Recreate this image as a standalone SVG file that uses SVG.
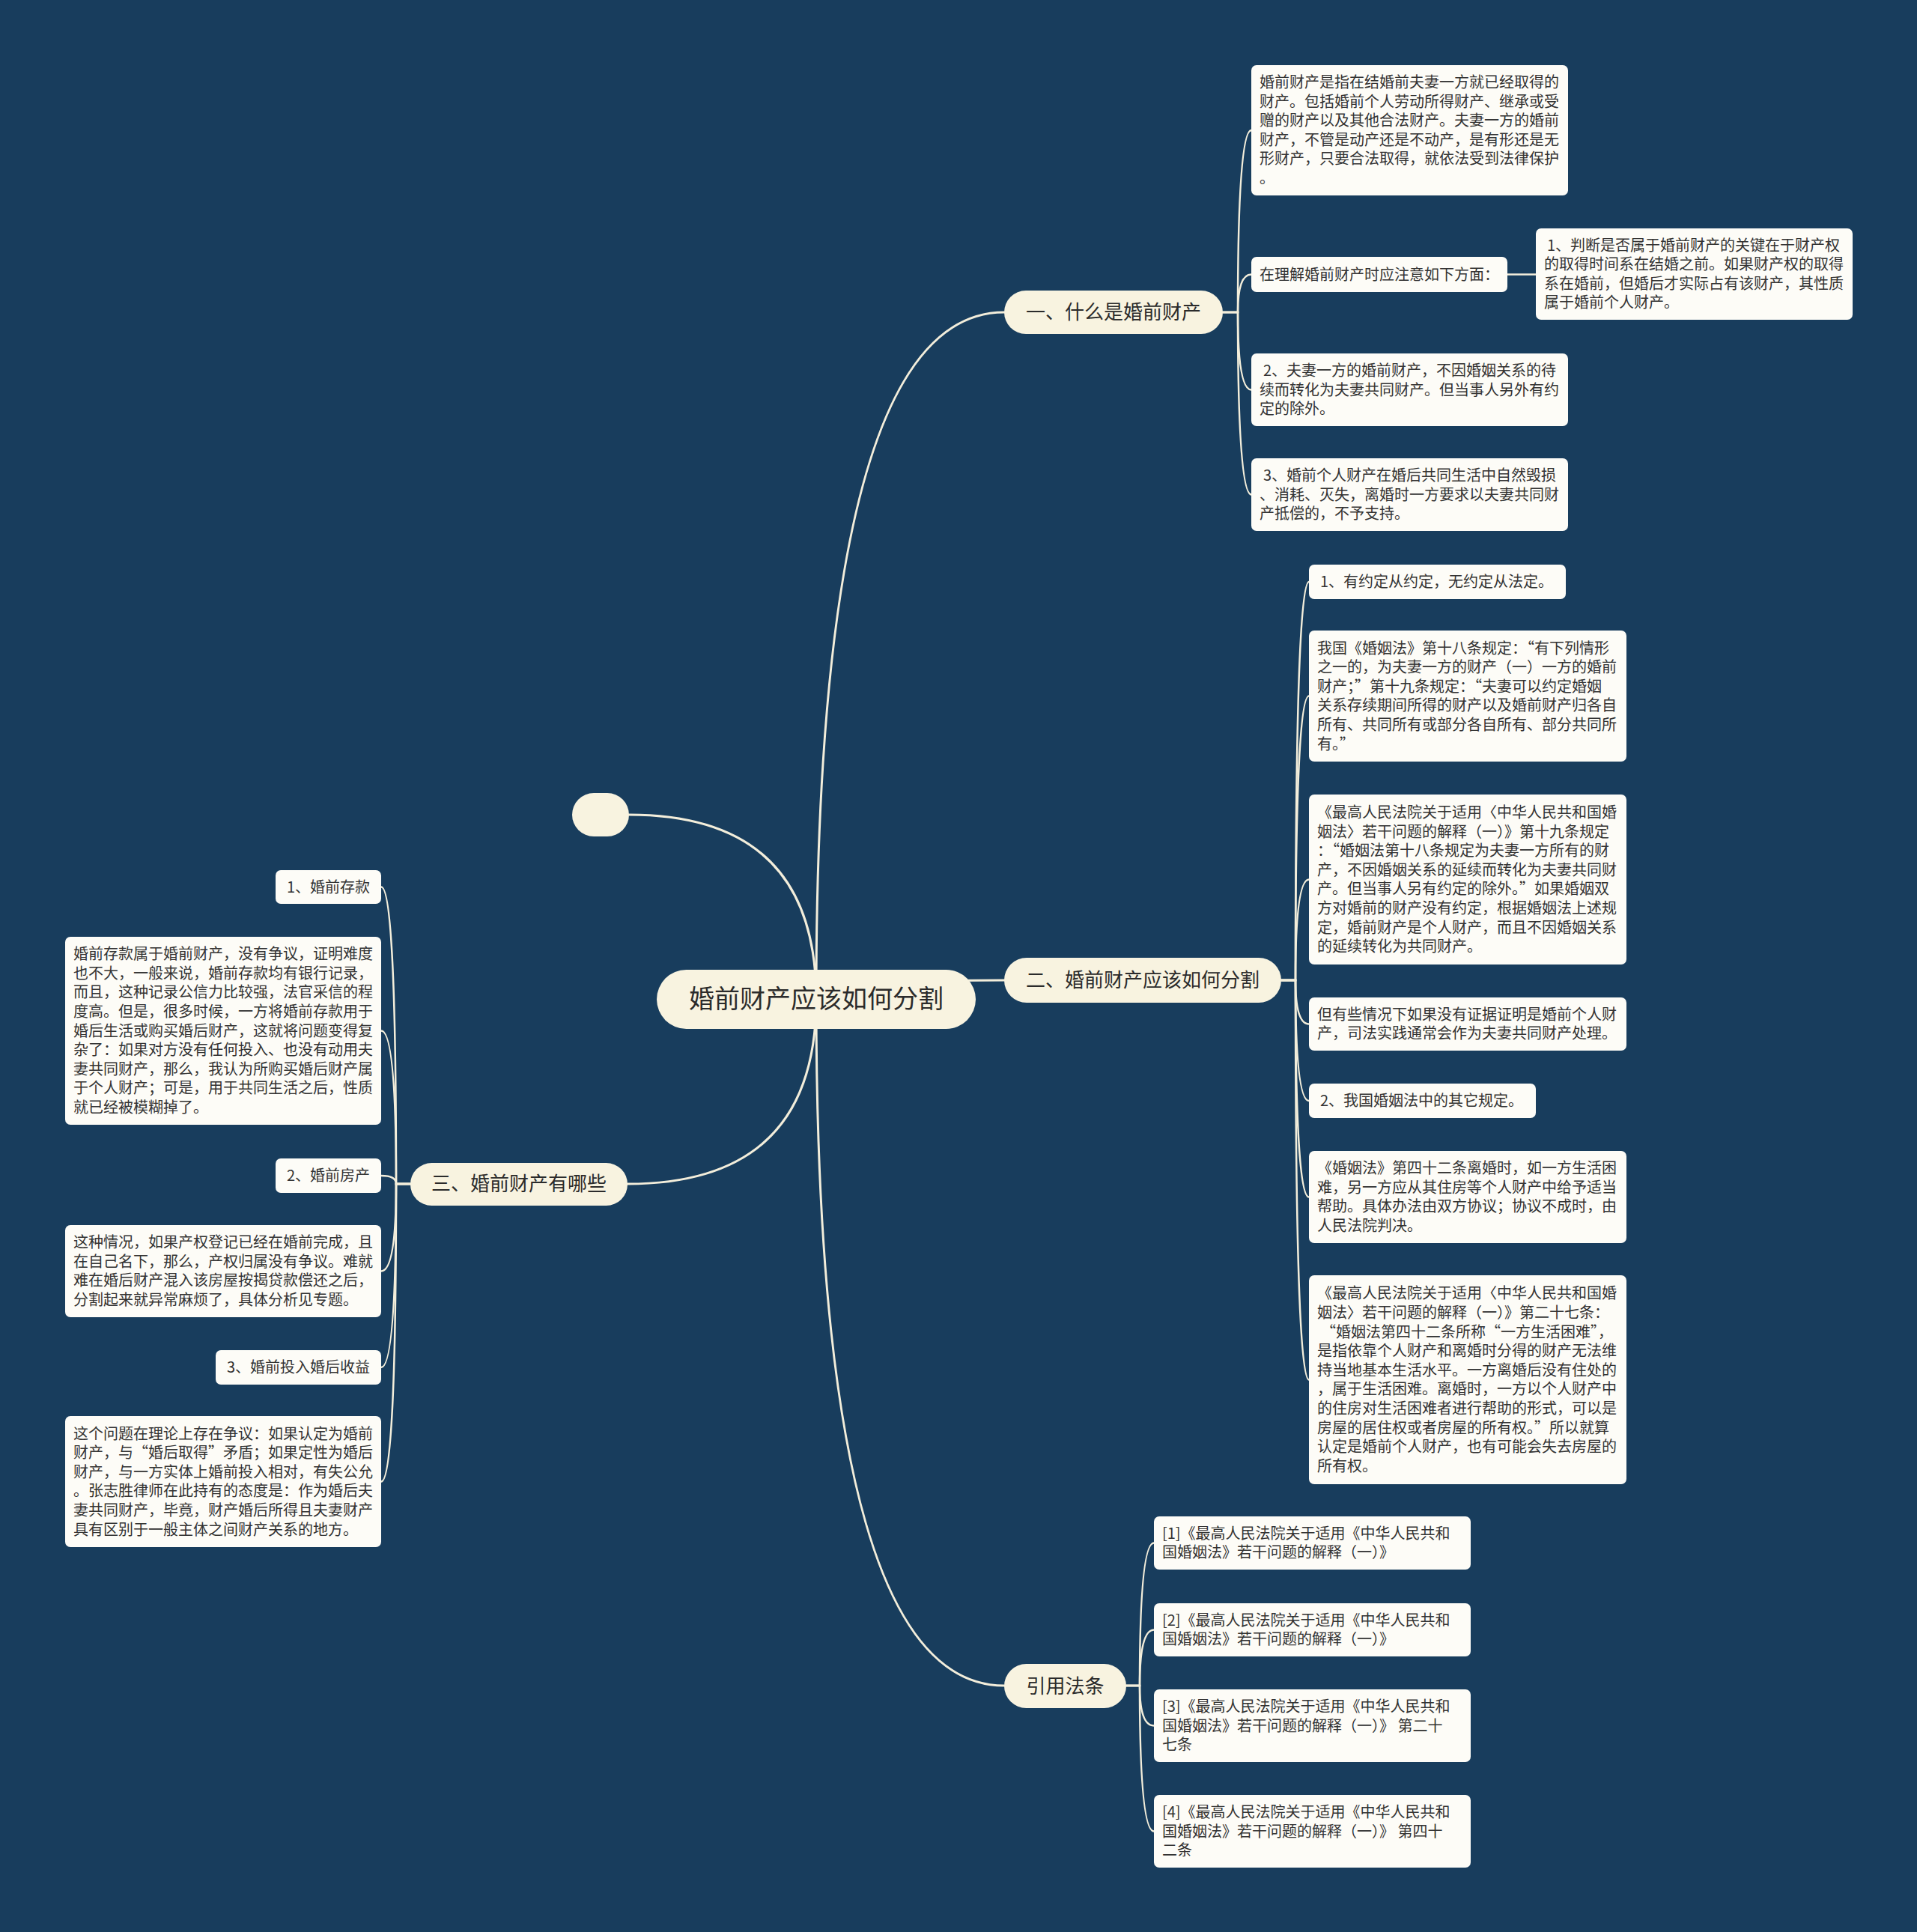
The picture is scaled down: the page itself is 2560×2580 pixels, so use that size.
<svg xmlns="http://www.w3.org/2000/svg" width="2560" height="2580" viewBox="0 0 2560 2580">
<style>
.leaf{fill:#fdfcf7}
.main{fill:#f8f3e0}
.t{font-family:"Noto Sans CJK SC","Noto Sans",sans-serif;font-size:20px;fill:#333333}
.tb{font-family:"Noto Sans CJK SC","Noto Sans",sans-serif;font-size:26px;fill:#2b2b2b;text-anchor:middle}
.tr{font-family:"Noto Sans CJK SC","Noto Sans",sans-serif;font-size:34px;fill:#2b2b2b;text-anchor:middle}
.c{fill:none;stroke:#f3eedb;stroke-width:2.5;stroke-linecap:round}
.cm{fill:none;stroke:#f3eedb;stroke-width:3;stroke-linecap:round}
</style>
<rect x="0" y="0" width="2560" height="2580" fill="#183d5d"/>
<g id="connectors">
<path class="cm" d="M1090,1334 Q1090,417 1341,417"/>
<path class="cm" d="M1090,1334 Q1090,1309 1341,1309"/>
<path class="cm" d="M1090,1334 Q1090,2251 1341,2251"/>
<path class="cm" d="M1090,1334 Q1090,1088 840,1088"/>
<path class="cm" d="M1090,1334 Q1090,1581 838,1581"/>
<path class="c" d="M1633,417 L1653,417 Q1653,174 1671,174"/>
<path class="c" d="M1633,417 L1653,417 Q1653,366.5 1671,366.5"/>
<path class="c" d="M1633,417 L1653,417 Q1653,520.5 1671,520.5"/>
<path class="c" d="M1633,417 L1653,417 Q1653,660.5 1671,660.5"/>
<path class="c" d="M2013,366.5 L2051,366.5"/>
<path class="c" d="M1711,1309 L1730,1309 Q1730,777 1748,777"/>
<path class="c" d="M1711,1309 L1730,1309 Q1730,929.5 1748,929.5"/>
<path class="c" d="M1711,1309 L1730,1309 Q1730,1174.5 1748,1174.5"/>
<path class="c" d="M1711,1309 L1730,1309 Q1730,1367.5 1748,1367.5"/>
<path class="c" d="M1711,1309 L1730,1309 Q1730,1470 1748,1470"/>
<path class="c" d="M1711,1309 L1730,1309 Q1730,1598.5 1748,1598.5"/>
<path class="c" d="M1711,1309 L1730,1309 Q1730,1842.5 1748,1842.5"/>
<path class="c" d="M1504,2251 L1522,2251 Q1522,2060.5 1541,2060.5"/>
<path class="c" d="M1504,2251 L1522,2251 Q1522,2176.5 1541,2176.5"/>
<path class="c" d="M1504,2251 L1522,2251 Q1522,2304.5 1541,2304.5"/>
<path class="c" d="M1504,2251 L1522,2251 Q1522,2445.5 1541,2445.5"/>
<path class="c" d="M548,1581 L529,1581 Q529,1184.5 509,1184.5"/>
<path class="c" d="M548,1581 L529,1581 Q529,1376.5 509,1376.5"/>
<path class="c" d="M548,1581 L529,1581 Q529,1570 509,1570"/>
<path class="c" d="M548,1581 L529,1581 Q529,1697.5 509,1697.5"/>
<path class="c" d="M548,1581 L529,1581 Q529,1826 509,1826"/>
<path class="c" d="M548,1581 L529,1581 Q529,1978.5 509,1978.5"/>
</g>
<g id="root">
<rect class="main" x="877" y="1295" width="426" height="79" rx="39.5"/>
<text class="tr" x="1090" y="1346">婚前财产应该如何分割</text>
</g>
<g id="empty">
<rect class="main" x="764" y="1059" width="76" height="58" rx="29"/>
</g>
<g id="b1">
<rect class="main" x="1341" y="388" width="292" height="58" rx="29"/>
<text class="tb" x="1487" y="426">一、什么是婚前财产</text>
</g>
<g id="b2">
<rect class="main" x="1341" y="1279" width="370" height="60" rx="30"/>
<text class="tb" x="1526" y="1318">二、婚前财产应该如何分割</text>
</g>
<g id="b3">
<rect class="main" x="1341" y="2222" width="163" height="59" rx="29.5"/>
<text class="tb" x="1422.5" y="2260.5">引用法条</text>
</g>
<g id="b4">
<rect class="main" x="548" y="1553" width="290" height="57" rx="28.5"/>
<text class="tb" x="693" y="1590">三、婚前财产有哪些</text>
</g>
<g id="a1">
<rect class="leaf" x="1671" y="87" width="423" height="174" rx="7"/>
<text class="t" y="117"><tspan x="1682">婚前财产是指在结婚前夫妻一方就已经取得的</tspan><tspan x="1682" dy="25.6">财产。包括婚前个人劳动所得财产、继承或受</tspan><tspan x="1682" dy="25.6">赠的财产以及其他合法财产。夫妻一方的婚前</tspan><tspan x="1682" dy="25.6">财产，不管是动产还是不动产，是有形还是无</tspan><tspan x="1682" dy="25.6">形财产，只要合法取得，就依法受到法律保护</tspan><tspan x="1682" dy="25.6">。</tspan></text>
</g>
<g id="a2">
<rect class="leaf" x="1671" y="343" width="342" height="47" rx="7"/>
<text class="t" x="1682" y="373.5">在理解婚前财产时应注意如下方面：</text>
</g>
<g id="a2c">
<rect class="leaf" x="2051" y="305" width="423" height="122" rx="7"/>
<text class="t" y="334.6"><tspan x="2066">1、判断是否属于婚前财产的关键在于财产权</tspan><tspan x="2062" dy="25.6">的取得时间系在结婚之前。如果财产权的取得</tspan><tspan x="2062" dy="25.6">系在婚前，但婚后才实际占有该财产，其性质</tspan><tspan x="2062" dy="25.6">属于婚前个人财产。</tspan></text>
</g>
<g id="a3">
<rect class="leaf" x="1671" y="472" width="423" height="97" rx="7"/>
<text class="t" y="501.9"><tspan x="1687">2、夫妻一方的婚前财产，不因婚姻关系的待</tspan><tspan x="1682" dy="25.6">续而转化为夫妻共同财产。但当事人另外有约</tspan><tspan x="1682" dy="25.6">定的除外。</tspan></text>
</g>
<g id="a4">
<rect class="leaf" x="1671" y="612" width="423" height="97" rx="7"/>
<text class="t" y="641.9"><tspan x="1687">3、婚前个人财产在婚后共同生活中自然毁损</tspan><tspan x="1682" dy="25.6">、消耗、灭失，离婚时一方要求以夫妻共同财</tspan><tspan x="1682" dy="25.6">产抵偿的，不予支持。</tspan></text>
</g>
<g id="c1">
<rect class="leaf" x="1748" y="754" width="343" height="46" rx="7"/>
<text class="t" x="1763" y="784">1、有约定从约定，无约定从法定。</text>
</g>
<g id="c2">
<rect class="leaf" x="1748" y="842" width="424" height="175" rx="7"/>
<text class="t" y="872.5"><tspan x="1759">我国《婚姻法》第十八条规定：“有下列情形</tspan><tspan x="1759" dy="25.6">之一的，为夫妻一方的财产（一）一方的婚前</tspan><tspan x="1759" dy="25.6">财产；”第十九条规定：“夫妻可以约定婚姻</tspan><tspan x="1759" dy="25.6">关系存续期间所得的财产以及婚前财产归各自</tspan><tspan x="1759" dy="25.6">所有、共同所有或部分各自所有、部分共同所</tspan><tspan x="1759" dy="25.6">有。”</tspan></text>
</g>
<g id="c3">
<rect class="leaf" x="1748" y="1061" width="424" height="227" rx="7"/>
<text class="t" y="1091.9"><tspan x="1759">《最高人民法院关于适用〈中华人民共和国婚</tspan><tspan x="1759" dy="25.6">姻法〉若干问题的解释（一）》第十九条规定</tspan><tspan x="1759" dy="25.6">：“婚姻法第十八条规定为夫妻一方所有的财</tspan><tspan x="1759" dy="25.6">产，不因婚姻关系的延续而转化为夫妻共同财</tspan><tspan x="1759" dy="25.6">产。但当事人另有约定的除外。”如果婚姻双</tspan><tspan x="1759" dy="25.6">方对婚前的财产没有约定，根据婚姻法上述规</tspan><tspan x="1759" dy="25.6">定，婚前财产是个人财产，而且不因婚姻关系</tspan><tspan x="1759" dy="25.6">的延续转化为共同财产。</tspan></text>
</g>
<g id="c4">
<rect class="leaf" x="1748" y="1332" width="424" height="71" rx="7"/>
<text class="t" y="1361.7"><tspan x="1759">但有些情况下如果没有证据证明是婚前个人财</tspan><tspan x="1759" dy="25.6">产，司法实践通常会作为夫妻共同财产处理。</tspan></text>
</g>
<g id="c5">
<rect class="leaf" x="1748" y="1447" width="303" height="46" rx="7"/>
<text class="t" x="1763" y="1477">2、我国婚姻法中的其它规定。</text>
</g>
<g id="c6">
<rect class="leaf" x="1748" y="1537" width="424" height="123" rx="7"/>
<text class="t" y="1567.1"><tspan x="1759">《婚姻法》第四十二条离婚时，如一方生活困</tspan><tspan x="1759" dy="25.6">难，另一方应从其住房等个人财产中给予适当</tspan><tspan x="1759" dy="25.6">帮助。具体办法由双方协议；协议不成时，由</tspan><tspan x="1759" dy="25.6">人民法院判决。</tspan></text>
</g>
<g id="c7">
<rect class="leaf" x="1748" y="1703" width="424" height="279" rx="7"/>
<text class="t" y="1734.3"><tspan x="1759">《最高人民法院关于适用〈中华人民共和国婚</tspan><tspan x="1759" dy="25.6">姻法〉若干问题的解释（一）》第二十七条：</tspan><tspan x="1764" dy="25.6">“婚姻法第四十二条所称“一方生活困难”，</tspan><tspan x="1759" dy="25.6">是指依靠个人财产和离婚时分得的财产无法维</tspan><tspan x="1759" dy="25.6">持当地基本生活水平。一方离婚后没有住处的</tspan><tspan x="1759" dy="25.6">，属于生活困难。离婚时，一方以个人财产中</tspan><tspan x="1759" dy="25.6">的住房对生活困难者进行帮助的形式，可以是</tspan><tspan x="1759" dy="25.6">房屋的居住权或者房屋的所有权。”所以就算</tspan><tspan x="1759" dy="25.6">认定是婚前个人财产，也有可能会失去房屋的</tspan><tspan x="1759" dy="25.6">所有权。</tspan></text>
</g>
<g id="r1">
<rect class="leaf" x="1541" y="2025" width="423" height="71" rx="7"/>
<text class="t" y="2054.7"><tspan x="1552">[1]《最高人民法院关于适用《中华人民共和</tspan><tspan x="1552" dy="25.6">国婚姻法》若干问题的解释（一）》</tspan></text>
</g>
<g id="r2">
<rect class="leaf" x="1541" y="2141" width="423" height="71" rx="7"/>
<text class="t" y="2170.7"><tspan x="1552">[2]《最高人民法院关于适用《中华人民共和</tspan><tspan x="1552" dy="25.6">国婚姻法》若干问题的解释（一）》</tspan></text>
</g>
<g id="r3">
<rect class="leaf" x="1541" y="2256" width="423" height="97" rx="7"/>
<text class="t" y="2285.9"><tspan x="1552">[3]《最高人民法院关于适用《中华人民共和</tspan><tspan x="1552" dy="25.6">国婚姻法》若干问题的解释（一）》 第二十</tspan><tspan x="1552" dy="25.6">七条</tspan></text>
</g>
<g id="r4">
<rect class="leaf" x="1541" y="2397" width="423" height="97" rx="7"/>
<text class="t" y="2426.9"><tspan x="1552">[4]《最高人民法院关于适用《中华人民共和</tspan><tspan x="1552" dy="25.6">国婚姻法》若干问题的解释（一）》 第四十</tspan><tspan x="1552" dy="25.6">二条</tspan></text>
</g>
<g id="l1">
<rect class="leaf" x="368" y="1162" width="141" height="45" rx="7"/>
<text class="t" x="383" y="1191.5">1、婚前存款</text>
</g>
<g id="l2">
<rect class="leaf" x="87" y="1251" width="422" height="251" rx="7"/>
<text class="t" y="1281.1"><tspan x="98">婚前存款属于婚前财产，没有争议，证明难度</tspan><tspan x="98" dy="25.6">也不大，一般来说，婚前存款均有银行记录，</tspan><tspan x="98" dy="25.6">而且，这种记录公信力比较强，法官采信的程</tspan><tspan x="98" dy="25.6">度高。但是，很多时候，一方将婚前存款用于</tspan><tspan x="98" dy="25.6">婚后生活或购买婚后财产，这就将问题变得复</tspan><tspan x="98" dy="25.6">杂了：如果对方没有任何投入、也没有动用夫</tspan><tspan x="98" dy="25.6">妻共同财产，那么，我认为所购买婚后财产属</tspan><tspan x="98" dy="25.6">于个人财产；可是，用于共同生活之后，性质</tspan><tspan x="98" dy="25.6">就已经被模糊掉了。</tspan></text>
</g>
<g id="l3">
<rect class="leaf" x="368" y="1547" width="141" height="46" rx="7"/>
<text class="t" x="383" y="1577">2、婚前房产</text>
</g>
<g id="l4">
<rect class="leaf" x="87" y="1636" width="422" height="123" rx="7"/>
<text class="t" y="1666.1"><tspan x="98">这种情况，如果产权登记已经在婚前完成，且</tspan><tspan x="98" dy="25.6">在自己名下，那么，产权归属没有争议。难就</tspan><tspan x="98" dy="25.6">难在婚后财产混入该房屋按揭贷款偿还之后，</tspan><tspan x="98" dy="25.6">分割起来就异常麻烦了，具体分析见专题。</tspan></text>
</g>
<g id="l5">
<rect class="leaf" x="288" y="1803" width="221" height="46" rx="7"/>
<text class="t" x="303" y="1833">3、婚前投入婚后收益</text>
</g>
<g id="l6">
<rect class="leaf" x="87" y="1891" width="422" height="175" rx="7"/>
<text class="t" y="1921.5"><tspan x="98">这个问题在理论上存在争议：如果认定为婚前</tspan><tspan x="98" dy="25.6">财产，与“婚后取得”矛盾；如果定性为婚后</tspan><tspan x="98" dy="25.6">财产，与一方实体上婚前投入相对，有失公允</tspan><tspan x="98" dy="25.6">。张志胜律师在此持有的态度是：作为婚后夫</tspan><tspan x="98" dy="25.6">妻共同财产，毕竟，财产婚后所得且夫妻财产</tspan><tspan x="98" dy="25.6">具有区别于一般主体之间财产关系的地方。</tspan></text>
</g>
</svg>
